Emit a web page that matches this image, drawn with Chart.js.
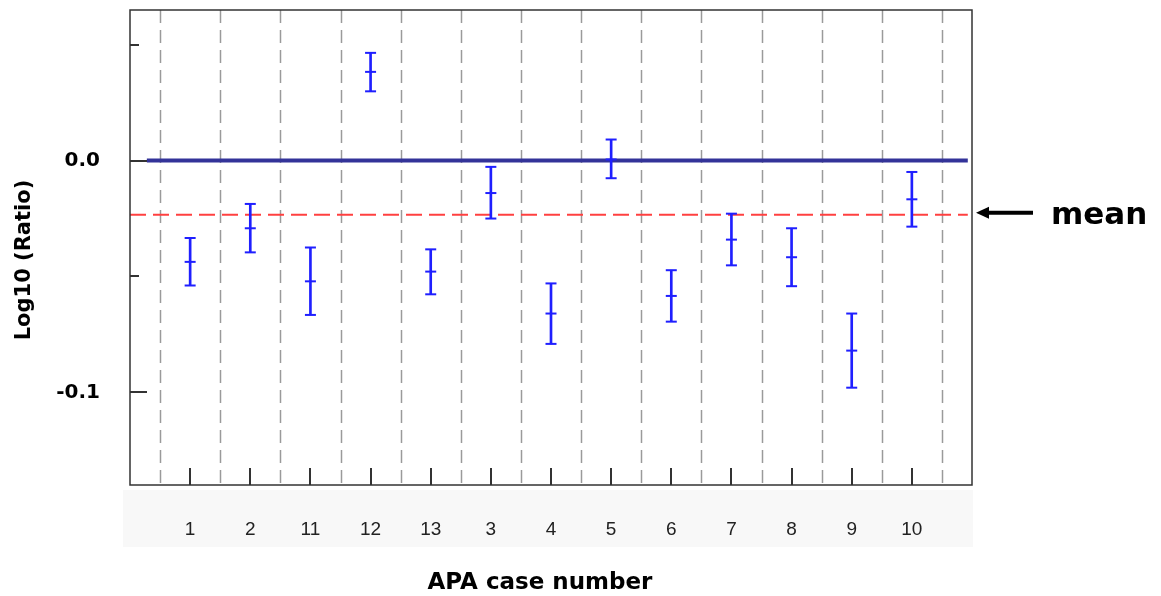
<!DOCTYPE html>
<html>
<head>
<meta charset="utf-8">
<title>APA case number - Log10 (Ratio)</title>
<script src="https://cdn.jsdelivr.net/npm/chart.js@4.4.0/dist/chart.umd.min.js"></script>
<style>
  html, body { margin: 0; padding: 0; background: #fff; }
  #wrap { width: 1161px; height: 596px; position: relative; }
</style>
</head>
<body>
<div id="wrap"><canvas id="ratioChart"></canvas></div>
<script>
// ----------------------
// Data
// ----------------------
const caseLabels = ["1", "2", "11", "12", "13", "3", "4", "5", "6", "7", "8", "9", "10"];
const ratioMid  = [-0.0437, -0.0292, -0.0521, 0.0383, -0.0479, -0.0140, -0.0660, 0.0005, -0.0584, -0.0341, -0.0417, -0.0820, -0.0167];
const ratioLow  = [-0.0539, -0.0396, -0.0666, 0.0299, -0.0577, -0.0250, -0.0791, -0.0076, -0.0695, -0.0452, -0.0542, -0.0980, -0.0285];
const ratioHigh = [-0.0334, -0.0187, -0.0375, 0.0465, -0.0383, -0.0027, -0.0530, 0.0091, -0.0473, -0.0229, -0.0292, -0.0660, -0.0049];
const meanValue = -0.0234;
const yTickValues = [-0.1, -0.05, 0.0, 0.05];
const yTickLabels = ["-0.1", "", "0.0", ""];
const zeroLineRange = [-0.72, 12.93];
const meanLineRange = [-1, 12.93];

const BLUE = "#1f1fff";

// build point lists from the arrays
const idx = caseLabels.map((_, i) => i);
const barData  = idx.map(i => ({ x: i, y: [ratioLow[i], ratioHigh[i]] }));
const midData  = idx.map(i => ({ x: i, y: ratioMid[i] }));
const lowData  = idx.map(i => ({ x: i, y: ratioLow[i] }));
const highData = idx.map(i => ({ x: i, y: ratioHigh[i] }));
const dividers = idx.concat([caseLabels.length]).map(i => i - 0.5);

// no extra label padding, the frame is placed by layout.padding + afterFit
function noPad(s) {
  s.paddingTop = 0; s.paddingBottom = 0; s.paddingLeft = 0; s.paddingRight = 0;
}

// ----------------------
// Decorations: dividers, frame, inner ticks, titles, mean arrow
// ----------------------
const decor = {
  id: "decor",
  beforeDraw(chart) {
    const ctx = chart.ctx;
    ctx.save();
    ctx.fillStyle = "#f8f8f8";
    ctx.fillRect(123, 490, 850, 57);
    ctx.restore();
  },
  beforeDatasetsDraw(chart) {
    const { ctx, chartArea: a, scales: { x } } = chart;
    ctx.save();
    ctx.strokeStyle = "#9a9a9a";
    ctx.lineWidth = 1.5;
    ctx.setLineDash([13, 7]);
    dividers.forEach(v => {
      const px = Math.round(x.getPixelForValue(v)) + 0.5;
      ctx.beginPath();
      ctx.moveTo(px, a.top);
      ctx.lineTo(px, a.bottom);
      ctx.stroke();
    });
    ctx.restore();
  },
  afterDatasetsDraw(chart) {
    const { ctx, chartArea: a, scales: { x, y } } = chart;
    ctx.save();
    ctx.strokeStyle = "#333";
    ctx.lineWidth = 2;
    // inner tick marks
    idx.forEach(i => {
      const px = Math.round(x.getPixelForValue(i));
      ctx.beginPath();
      ctx.moveTo(px, a.bottom);
      ctx.lineTo(px, a.bottom - 17);
      ctx.stroke();
    });
    yTickValues.forEach((v, k) => {
      const py = Math.round(y.getPixelForValue(v));
      ctx.beginPath();
      ctx.moveTo(a.left, py);
      ctx.lineTo(a.left + (yTickLabels[k] ? 17 : 9), py);
      ctx.stroke();
    });
    // frame
    ctx.lineWidth = 1.5;
    ctx.strokeRect(a.left, a.top, a.right - a.left, a.bottom - a.top);
    ctx.restore();
  },
  afterDraw(chart) {
    const { ctx, chartArea: a, scales: { y } } = chart;
    ctx.save();
    ctx.fillStyle = "#000";
    // axis titles
    ctx.font = "bold 23px 'DejaVu Sans'";
    ctx.textAlign = "center";
    ctx.textBaseline = "middle";
    ctx.fillText("APA case number", 540, 583);
    ctx.save();
    ctx.translate(25, 260);
    ctx.rotate(-Math.PI / 2);
    ctx.font = "bold 21px 'DejaVu Sans'";
    ctx.fillText("Log10 (Ratio)", 0, 0);
    ctx.restore();
    // mean arrow
    const my = y.getPixelForValue(meanValue) - 2;
    ctx.strokeStyle = "#000";
    ctx.lineWidth = 4;
    ctx.beginPath();
    ctx.moveTo(a.right + 14, my);
    ctx.lineTo(1033, my);
    ctx.stroke();
    ctx.beginPath();
    ctx.moveTo(a.right + 4, my);
    ctx.lineTo(a.right + 17, my - 6);
    ctx.lineTo(a.right + 17, my + 6);
    ctx.closePath();
    ctx.fill();
    ctx.font = "bold 31px 'DejaVu Sans'";
    ctx.textAlign = "left";
    ctx.textBaseline = "alphabetic";
    ctx.fillText("mean", 1051, my + 11);
    ctx.restore();
  }
};

// ----------------------
// Chart
// ----------------------
const ctx = document.getElementById("ratioChart").getContext("2d");
new Chart(ctx, {
  type: "bar",
  data: {
    datasets: [
      { type: "scatter", data: midData, pointStyle: "line", pointRadius: 5.5, pointHoverRadius: 5.5,
        pointBorderWidth: 2, borderColor: BLUE, backgroundColor: BLUE, order: 0 },
      { type: "scatter", data: lowData, pointStyle: "line", pointRadius: 5.5, pointHoverRadius: 5.5,
        pointBorderWidth: 2, borderColor: BLUE, backgroundColor: BLUE, order: 0 },
      { type: "scatter", data: highData, pointStyle: "line", pointRadius: 5.5, pointHoverRadius: 5.5,
        pointBorderWidth: 2, borderColor: BLUE, backgroundColor: BLUE, order: 0 },
      { type: "bar", data: barData, backgroundColor: BLUE, borderWidth: 0, barThickness: 2, order: 1 },
      { type: "line", data: [{ x: zeroLineRange[0], y: 0 }, { x: zeroLineRange[1], y: 0 }],
        borderColor: "#333399", borderWidth: 4, pointRadius: 0, order: 2 },
      { type: "line", data: [{ x: meanLineRange[0], y: meanValue }, { x: meanLineRange[1], y: meanValue }],
        borderColor: "#ff4040", borderWidth: 2, borderDash: [16, 7], pointRadius: 0, order: 3 }
    ]
  },
  options: {
    responsive: true,
    maintainAspectRatio: false,
    animation: false,
    layout: { autoPadding: false, padding: { top: 10, right: 189, left: 0, bottom: 0 } },
    plugins: { legend: { display: false }, tooltip: { enabled: false } },
    scales: {
      x: {
        type: "linear",
        offset: false,
        min: -1,
        max: 13,
        grid: { display: false, drawTicks: false, offset: false },
        border: { display: false },
        afterBuildTicks: s => { s.ticks = idx.map(i => ({ value: i })); },
        afterFit: s => { s.height = 111; noPad(s); },
        ticks: {
          padding: 33,
          color: "#222",
          font: { family: "'Liberation Sans'", size: 19 },
          maxRotation: 0,
          autoSkip: false,
          callback: v => caseLabels[v]
        }
      },
      y: {
        min: -0.14,
        max: 0.065,
        grid: { display: false, drawTicks: false },
        border: { display: false },
        afterBuildTicks: s => { s.ticks = yTickValues.map(v => ({ value: v })); },
        afterFit: s => { s.width = 130; noPad(s); },
        ticks: {
          padding: 30,
          color: "#000",
          font: { family: "'DejaVu Sans'", size: 20, weight: "bold" },
          autoSkip: false,
          callback: (v, i) => yTickLabels[i]
        }
      }
    }
  },
  plugins: [decor]
});
</script>
</body>
</html>
